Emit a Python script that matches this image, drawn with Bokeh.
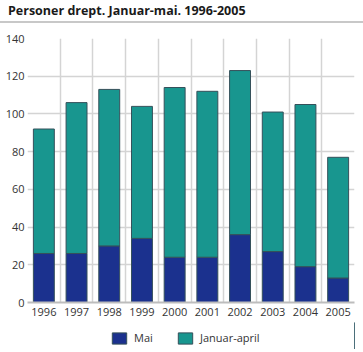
from bokeh.plotting import figure
from bokeh.models import ColumnDataSource, FixedTicker, Legend, Range1d, Div
from bokeh.layouts import column
from bokeh.embed import file_html
from bokeh.resources import INLINE

years = [1996, 1997, 1998, 1999, 2000, 2001, 2002, 2003, 2004, 2005]
mai = [26, 26, 30, 34, 24, 24, 36, 27, 19, 13]
totals = [92, 106, 113, 104, 114, 112, 123, 101, 105, 77]
januar_april = [t - m for t, m in zip(totals, mai)]
series_labels = ["Mai", "Januar-april"]
series_colors = ["#1b318e", "#18968f"]
title_text = "Personer drept. Januar-mai. 1996-2005"

FONT = "Open Sans"

src = ColumnDataSource(dict(year=years, mai=mai, jan=januar_april))

title_div = Div(
    text=title_text, width=363, height=23,
    styles={"font-family": FONT, "font-weight": "bold", "font-size": "12.5px",
            "color": "#1a1a1a", "padding-left": "8px", "padding-top": "2px",
            "box-sizing": "border-box", "border-bottom": "2px solid #c8c8c8",
            "width": "363px", "height": "23px", "margin": "0", "line-height": "17px"},
)

p = figure(frame_width=327, frame_height=264, output_backend="svg", toolbar_location=None,
           x_range=Range1d(1995.5, 2005.5), y_range=Range1d(0, 140),
           min_border_left=27, min_border_right=9, min_border_top=15, min_border_bottom=20)

r = p.vbar_stack(["mai", "jan"], x="year", width=0.64, source=src,
                 color=series_colors, line_color="#35505a", line_width=1)

p.xaxis.ticker = FixedTicker(ticks=years)
p.yaxis.ticker = FixedTicker(ticks=[0, 20, 40, 60, 80, 100, 120, 140])
p.xgrid.ticker = FixedTicker(ticks=[y - 0.5 for y in years] + [2005.5])
for g in (p.xgrid, p.ygrid):
    g.grid_line_color = "#d4d4d4"
    g.grid_line_width = 1.5

for ax in (p.xaxis, p.yaxis):
    ax.major_tick_line_color = None
    ax.minor_tick_line_color = None
    ax.major_tick_out = 0
    ax.major_tick_in = 0
    ax.minor_tick_out = 0
    ax.major_label_text_font = FONT
    ax.major_label_text_font_size = "11px"
    ax.major_label_text_color = "#333333"
p.yaxis.axis_line_color = None
p.yaxis.major_label_standoff = 3
p.xaxis.axis_line_color = "#bdbdbd"
p.xaxis.axis_line_width = 2
p.xaxis.major_label_standoff = 5
p.outline_line_color = None

# legend strip (separate small figure without axes)
lf = figure(width=363, height=27, output_backend="svg", toolbar_location=None,
            x_range=Range1d(0, 1), y_range=Range1d(0, 1),
            x_axis_location=None, y_axis_location=None,
            min_border_left=0, min_border_right=0, min_border_top=0, min_border_bottom=0)
lf.grid.visible = False
lf.outline_line_color = None
items = []
for lab, col in zip(series_labels, series_colors):
    # placeholder renderer outside the visible range; only its legend swatch shows
    rr = lf.vbar(x=[10], top=[1], width=0.5, color=col, line_color="#35505a")
    items.append((lab, [rr]))
legend = Legend(items=items, orientation="horizontal", location=(83, 4),
                label_text_font=FONT, label_text_font_size="11px",
                label_text_color="#333333",
                glyph_width=18, glyph_height=14, label_standoff=6, spacing=22,
                padding=0, margin=0, border_line_color=None,
                background_fill_alpha=0)
lf.add_layout(legend)

bottom_div = Div(text="", width=363, height=2,
                 styles={"background-color": "#c8c8c8", "width": "363px", "height": "2px"})

layout = column(title_div, p, lf, bottom_div, spacing=0)

open("out.html", "w").write(file_html(layout, INLINE))
